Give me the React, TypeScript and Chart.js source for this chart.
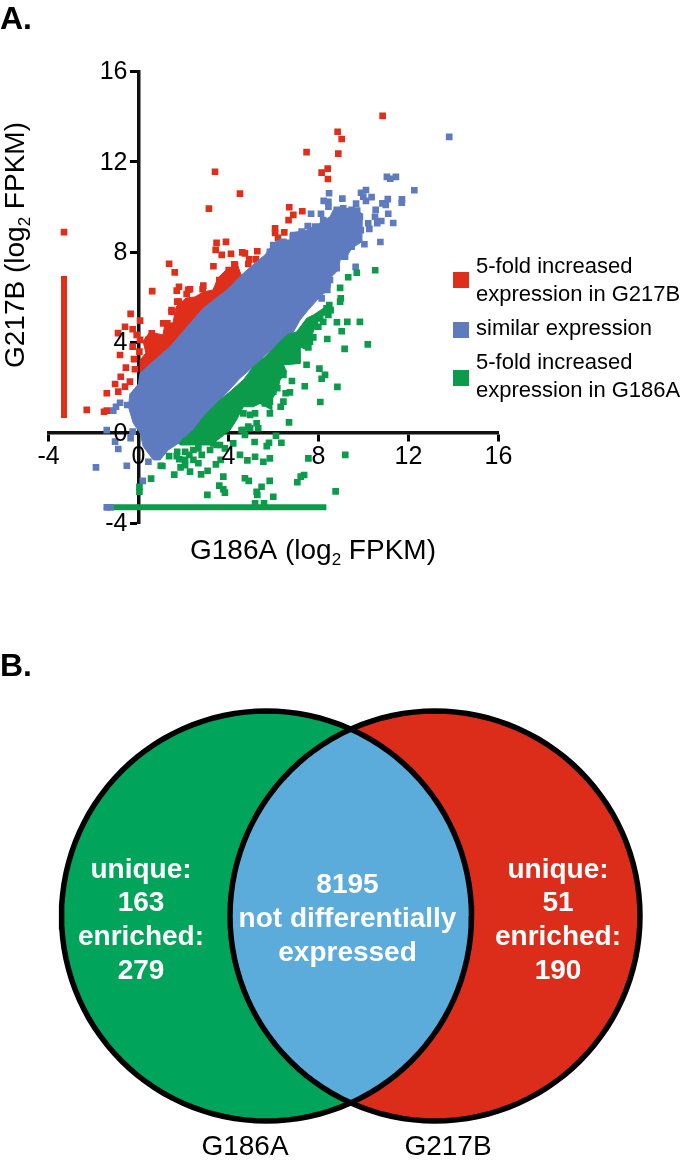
import React, { useEffect, useRef } from "react";
import { Chart, registerables } from "chart.js";

Chart.register(...registerables);

type P = [number, number];

const FONT = '"Liberation Sans", Arial, Helvetica, sans-serif';
const RED = "#DF2F1B";
const BLUE = "#5F7BC0";
const GREEN = "#0B9B4A";

const redPoints: P[] = [
  [3.4,11.56],[4.51,10.59],[3.13,9.93],[6.07,9.06],[6.07,8.85],[3.47,8.41],[3.89,8.46],[3.43,8.1],[3.7,7.88],[4.11,7.93],
  [4.61,7.99],[4.73,7.95],[5.28,8.04],[4.92,7.68],[5.22,7.68],[4.88,7.48],[1.36,7.49],[1.61,7.11],[3.33,7.38],[4.26,7.46],
  [0.61,6.28],[1.7,6.3],[1.8,6.47],[2.21,6.34],[2.88,6.52],[10.85,14.03],[8.85,13.33],[9.03,13.01],[8.88,12.36],[7.47,12.43],
  [8.41,11.7],[8.14,11.52],[8.42,11.24],[6.7,9.99],[7.28,9.81],[6.88,9.65],[6.67,9.42],[6.48,8.88],[6.2,8.64],[2.29,6.36],
  [2.14,6.15],[2.85,6.36],[1.79,5.81],[1.47,5.44],[4.01,7.21],[4.29,7.43],[3.59,6.77],[3.84,6.89],[-3.31,8.89],
  [-0.35,5.27],[0.07,4.97],[-0.6,4.7],[-0.26,4.59],[-0.08,4.34],[-0.91,4.42],[0.07,4.12],[-0.26,3.82],[-0.82,3.45],[0.04,3.6],
  [-0.2,3.27],[-0.56,2.89],[-0.16,2.82],[-0.79,2.49],[-0.38,2.27],[-1.04,2.17],[-0.6,2.05],[-0.9,1.83],[-1.41,1.76],
  [-1.53,0.94],[-1.41,0.99],[-2.3,1.02],[1.47,5.37],[1.72,5.81],[1.28,4.85],[1.1,4.85],[0.44,4.12],[0.59,4.41],
];
const redDense: P[] = [
  [0.07,2.7],[0.07,3.23],[0.33,3.54],[0.2,4.07],[0.51,4.47],[1.09,4.34],[1.18,4.87],[1.53,4.87],[1.67,5.58],[2.11,5.97],
  [2.51,6.02],[2.87,6.24],[3.31,6.33],[3.53,6.86],[3.98,7.3],[4.42,7.39],[4.56,6.99],[4.66,7],[4.07,6.4],[2.88,5.45],[1.4,3.75],[0.07,2.55],
];
const redBar: P[] = [[-3.31,6.95],[-3.31,0.66]];

const bluePoints: P[] = [
  [13.81,13.1],[11.04,11.33],[11.19,11.25],[11.44,11.33],[12.26,10.74],[8.47,10.61],[10.11,10.75],[9.89,10.63],[9.99,10.46],[10.36,10.44],
  [10.11,10.27],[9.06,10.37],[8.23,10.27],[8.44,10.23],[8.44,10.01],[9.67,10.15],[11.08,10.35],[10.84,10.16],[10.99,10.09],[11.71,10.34],
  [11.7,10.19],[10.54,9.87],[11.1,9.7],[10.51,9.57],[10.79,9.38],[10.61,9.28],[11.32,9.29],[10.21,9.28],[10.26,9.03],[10.75,8.45],
  [10.04,8.35],[7.67,9.7],[8.11,9.7],[7.52,9.16],[9.65,7.35],
  [-0.82,1.34],[-1,1.16],[-1.12,0.99],[-0.5,1.24],[-1.41,0.13],[-1.04,-0.38],[-0.9,-0.71],[-0.35,-0.23],[-0.26,0.06],[-1.89,-1.52],
  [-0.52,-1.45],[0.44,-1.27],[0.19,-2.12],[-1.41,-3.29],[-1.24,-3.29],
  [8.81,9.87],[9.1,9.94],[9.25,9.72],[9.47,9.87],[9.72,9.84],[9.84,9.57],[9.81,9.28],[9.88,8.98],[9.7,8.61],[9.47,8.24],[9.18,7.8],
  [8.81,7.29],[8.51,6.77],[8.39,6.33],[8.14,5.96],[8.21,9.06],[8.21,9.42],[7.84,9.13],[7.25,8.91],[6.88,8.76],[6.44,8.46],[5.99,8.32],[5.84,8.02],
];
const blueDense: P[] = [
  [0,2.2],[0.07,2.65],[1.4,3.82],[2.88,5.52],[3.92,6.33],[4.07,6.47],[4.66,7.07],[5.25,7.58],[5.62,7.88],[5.99,8.39],[6.21,8.54],
  [6.73,8.54],[6.73,8.84],[7.48,8.98],[7.99,9.25],[8.51,9.57],[8.66,9.87],[9.1,9.94],[9.48,9.94],[9.92,9.72],[9.92,8.46],[9.48,8.17],
  [9.25,7.8],[8.96,7.65],[8.88,7.21],[8.59,6.92],[8.51,6.4],[8.07,6.03],[7.54,5.44],[7.18,5],[6.89,4.48],[6.43,4.04],[5.99,3.75],
  [5.55,3.38],[5.1,2.93],[4.51,2.42],[3.62,1.46],[3.03,0.87],[2.59,0.28],[2,-0.31],[1.32,-0.75],[0.96,-1.19],[0.66,-1.19],[0.21,-0.6],
  [0.07,0],[-0.23,0.43],[-0.45,1.16],[-0.38,1.75],
];

const greenPoints: P[] = [
  [10.52,7.2],[9.7,7.09],[9.32,6.89],[8.96,6.42],[8.99,5.96],[8.96,5.81],[8.48,5.66],[8.36,5.52],[8.54,5.44],[8.44,5.22],[9.84,4.92],
  [9.28,4.92],[8.82,4.9],[9.03,4.5],[10.19,3.92],[9.16,3.72],[8.39,4.16],[8.07,5.07],[7.84,4.85],[7.99,4.7],[8.21,4.92],[7.77,4.23],
  [7.62,4.04],[7.55,3.79],[7.47,3.02],[8.04,2.85],[8.29,2.57],[8.14,2.4],[8.84,2.04],[7.39,2.07],[6.82,2.3],[8.08,1.37],[6.73,1.8],
  [6.54,1.76],[6.44,1.39],[6.32,1.16],[6.69,0.47],[5.84,1.39],[5.62,1.31],[5.84,0.87],[5.18,0.87],[4.96,0.8],[4.66,0.87],[5.25,0.43],
  [4.96,0.21],[5.32,0.21],[4.66,0.13],[6.11,-0.12],[6.35,-0.43],[5.16,-0.4],[5.8,-0.43],[5.7,-0.58],[4.73,-0.09],[5.18,-1.05],[4.84,-1.21],
  [5.55,-1.27],[5.84,-1.12],[7.55,-1.12],[9.19,-0.97],[7.36,-1.86],[7.21,-1.93],[7.06,-2.18],[4.73,-2],[4.9,-2.12],[5.83,-2.12],[5.47,-2.38],
  [5.25,-2.6],[5.28,-2.74],[5.99,-2.82],[8.76,-2.58],[5.18,-3.11],[5.58,-3.11],[1.36,-1.02],[0.99,-1.45],[1.06,-1.46],[0.56,-2.02],[0.04,-2.38],
  [0.04,-2.6],[1.59,-1.84],[1.87,-1.52],[2.07,-1.42],[2.29,-1.71],[2.66,-1.34],[2.78,-1.83],[3.07,-1.67],[3.44,-1.39],[3.65,-1.19],[3.06,-2.74],
  [3.77,-1.93],[3.59,-2.33],[3.77,-2.49],[3.84,-2.64],[4.51,-0.97],[4.21,-0.46],[3.84,-0.68],[3.62,-0.53],[3.32,-0.46],[3.18,-0.75],[2.81,-0.97],
  [2.66,-0.68],[2.26,-0.97],[2.07,-0.83],[2.44,-0.75],[2.07,-1.19],[2.44,-1.19],[1.72,-0.83],[1.7,-1.02],[1.81,-1.16],[2.07,-0.38],[2.36,-0.31],
  [2.66,-0.16],[2.81,0.06],[3.18,0],[3.18,-0.31],[3.47,-0.53],[4.58,0.13],[4.88,0.28],[6.44,2.57],[6.36,2.79],[6.07,2.42],[6.17,1.98],[5.99,1.83],
];
const greenDense: P[] = [
  [1.77,-0.46],[2.44,0.13],[2.96,0.8],[3.62,1.46],[4.07,1.83],[4.66,2.35],[5.1,2.93],[5.7,3.45],[6.07,3.82],[6.59,4.34],[7.03,4.48],[7.48,5.08],
  [7.77,5.22],[8.44,5.66],[8.44,5.3],[7.99,5.08],[7.77,4.48],[7.48,3.67],[7.18,3.82],[7.18,3.08],[6.44,3.01],[6.59,2.71],[6.29,2.35],[6.21,1.98],
  [5.92,1.46],[5.92,1.02],[5.4,1.31],[5.1,1.16],[4.66,1.16],[4.36,0.58],[4.07,0.13],[3.62,-0.23],[3.18,-0.53],[2.44,-0.53],[1.84,-0.53],
];
const greenBar: P[] = [[-1.1,-3.29],[8.35,-3.29]];

const legendLabels = [
  ["5-fold increased", "expression in G217B"],
  ["similar expression"],
  ["5-fold increased", "expression in G186A"],
];
const legendColors = [RED, BLUE, GREEN];

const vennCenters: P[] = [[266.5, 916], [435, 916]];
const vennRadius = 205;
const vennColors = { left: "#00A45A", right: "#DC2C1A", both: "#5BACDB" };
const vennLeftText = ["unique:", "163", "enriched:", "279"];
const vennRightText = ["unique:", "51", "enriched:", "190"];
const vennCenterText = ["8195", "not differentially", "expressed"];
const vennNames = ["G186A", "G217B"];

const toXY = (p: P[]) => p.map(([x, y]) => ({ x, y }));
const scatter = (data: P[], color: string) => ({
  data: toXY(data), backgroundColor: color, pointStyle: "rect", pointRadius: 4.7, borderWidth: 0, showLine: false,
});
const dense = (data: P[], color: string) => ({
  data: toXY(data), showLine: true, fill: "shape", backgroundColor: color, borderColor: color, borderWidth: 1, pointRadius: 0, tension: 0,
});
const bar = (data: P[], color: string) => ({
  data: toXY(data), showLine: true, fill: false, borderColor: color, borderWidth: 6, pointRadius: 0, borderCapStyle: "butt",
});

function arc(center: P, from: number, to: number): P[] {
  const out: P[] = [];
  const n = 120;
  for (let i = 0; i <= n; i++) {
    const a = from + ((to - from) * i) / n;
    out.push([center[0] + vennRadius * Math.cos(a), center[1] + vennRadius * Math.sin(a)]);
  }
  return out;
}

export default function App() {
  const aRef = useRef<HTMLCanvasElement>(null);
  const bRef = useRef<HTMLCanvasElement>(null);

  useEffect(() => {
    const textA = {
      id: "textA",
      afterLayout(chart: any) {
        // the y axis sits at x = 0: move its tick labels clear of the tick marks
        chart.scales.y.getLabelItems().forEach((it: any) => {
          it.options.translation[0] -= 11;
          it.options.translation[1] += 1;
        });
      },
      afterDraw(chart: any) {
        const c = chart.ctx;
        c.save();
        c.fillStyle = "#000";
        c.textBaseline = "middle";
        c.textAlign = "left";
        c.font = `bold 32px ${FONT}`;
        c.fillText("A.", 0, 20);
        const title = (x: number, y: number, s1: string, s2: string) => {
          c.font = `28px ${FONT}`;
          c.fillText(s1, x, y);
          const w1 = c.measureText(s1).width;
          c.font = `17px ${FONT}`;
          c.fillText("2", x + w1, y + 9);
          const w2 = c.measureText("2").width;
          c.font = `28px ${FONT}`;
          c.fillText(s2, x + w1 + w2, y);
        };
        title(190, 551, "G186A (log", " FPKM)");
        c.save();
        c.translate(16, 368);
        c.rotate(-Math.PI / 2);
        title(0, 0, "G217B (log", " FPKM)");
        c.restore();
        const rows = [267, 295, 329, 363, 391];
        let r = 0;
        const boxes = [272, 322, 370];
        legendLabels.forEach((lines, i) => {
          c.fillStyle = legendColors[i];
          c.fillRect(453, boxes[i], 16, 16);
          c.fillStyle = "#000";
          c.font = `22px ${FONT}`;
          lines.forEach((l) => c.fillText(l, 476, rows[r++]));
        });
        c.restore();
      },
    };

    const chartA = new Chart(aRef.current!, {
      type: "scatter",
      data: {
        datasets: [
          scatter(greenPoints, GREEN),
          dense(greenDense, GREEN),
          bar(greenBar, GREEN),
          scatter(bluePoints, BLUE),
          dense(blueDense, BLUE),
          scatter(redPoints, RED),
          dense(redDense, RED),
          bar(redBar, RED),
        ] as any,
      },
      options: {
        responsive: false,
        animation: false,
        devicePixelRatio: 1,
        layout: { autoPadding: false, padding: { left: 48.5, right: 186.5, top: 71.4, bottom: 76.6 } },
        plugins: { legend: { display: false }, tooltip: { enabled: false } },
        scales: {
          x: {
            type: "linear", min: -4, max: 16, position: { y: 0 } as any,
            grid: { drawOnChartArea: false, drawTicks: true, tickLength: 7, tickColor: "#000", tickWidth: 3 },
            border: { display: true, color: "#111", width: 3.5 },
            ticks: { stepSize: 4, color: "#000", font: { family: FONT, size: 25 }, padding: 2, maxRotation: 0, autoSkip: false, z: 1 },
          },
          y: {
            type: "linear", min: -4, max: 16, position: { x: 0 } as any,
            grid: { drawOnChartArea: false, drawTicks: true, tickLength: 7, tickColor: "#000", tickWidth: 3 },
            border: { display: true, color: "#111", width: 3.5 },
            ticks: { stepSize: 4, color: "#000", font: { family: FONT, size: 25 }, padding: 3, autoSkip: false, z: 1 },
          },
        },
      } as any,
      plugins: [textA],
    });

    const dx = (vennCenters[1][0] - vennCenters[0][0]) / 2;
    const phi = Math.acos(dx / vennRadius);
    const leftCircle = arc(vennCenters[0], 0, 2 * Math.PI);
    const rightCircle = arc(vennCenters[1], 0, 2 * Math.PI);
    const lens = [...arc(vennCenters[0], -phi, phi), ...arc(vennCenters[1], Math.PI - phi, Math.PI + phi)];
    const outline = (d: P[]) => ({
      data: toXY(d), showLine: true, fill: false, borderColor: "#000", borderWidth: 5.5, pointRadius: 0,
    });

    const textB = {
      id: "textB",
      afterDraw(chart: any) {
        const c = chart.ctx;
        const yy = (v: number) => chart.scales.y.getPixelForValue(v);
        const xx = (v: number) => chart.scales.x.getPixelForValue(v);
        c.save();
        c.textBaseline = "middle";
        c.fillStyle = "#000";
        c.textAlign = "left";
        c.font = `bold 32px ${FONT}`;
        c.fillText("B.", 0, yy(667));
        c.textAlign = "center";
        c.font = `28px ${FONT}`;
        c.fillText(vennNames[0], xx(245), yy(1147));
        c.fillText(vennNames[1], xx(448), yy(1147));
        c.fillStyle = "#fff";
        c.font = `bold 28px ${FONT}`;
        vennLeftText.forEach((t, i) => c.fillText(t, xx(141), yy(870 + i * 33.7)));
        vennRightText.forEach((t, i) => c.fillText(t, xx(558), yy(870 + i * 33.7)));
        vennCenterText.forEach((t, i) => c.fillText(t, xx(347.5), yy(885 + i * 34)));
        c.restore();
      },
    };

    const chartB = new Chart(bRef.current!, {
      type: "scatter",
      data: {
        datasets: [
          outline(leftCircle),
          outline(rightCircle),
          dense(lens, vennColors.both),
          dense(rightCircle, vennColors.right),
          dense(leftCircle, vennColors.left),
        ] as any,
      },
      options: {
        responsive: false,
        animation: false,
        devicePixelRatio: 1,
        layout: { autoPadding: false, padding: 0 },
        plugins: { legend: { display: false }, tooltip: { enabled: false } },
        scales: {
          x: { type: "linear", min: 0, max: 685, display: false },
          y: { type: "linear", min: 600, max: 1163, reverse: true, display: false },
        },
      } as any,
      plugins: [textB],
    });

    return () => {
      chartA.destroy();
      chartB.destroy();
    };
  }, []);

  return (
    <div style={{ position: "absolute", left: 0, top: 0, width: 685, height: 1163, background: "#fff" }}>
      <canvas ref={aRef} width={685} height={600} style={{ position: "absolute", left: 0, top: 0, width: 685, height: 600 }} />
      <canvas ref={bRef} width={685} height={563} style={{ position: "absolute", left: 0, top: 600, width: 685, height: 563 }} />
    </div>
  );
}
